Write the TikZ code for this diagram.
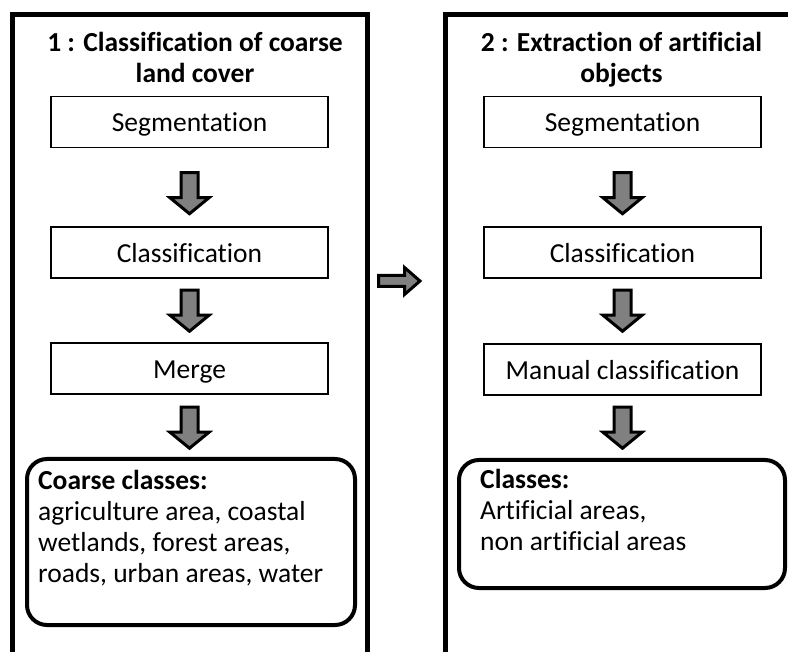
\documentclass[tikz,border=0pt]{standalone}
\usepackage{fontspec}
\setmainfont{Carlito}[Ligatures=CommonOff]
\usetikzlibrary{calc}
\begin{document}
\begin{tikzpicture}[x=1pt,y=-1pt,
  panel/.style={draw, line width=5pt},
  stepbox/.style={draw, line width=1.5pt, minimum width=277pt, minimum height=51pt, inner sep=0pt, text height=20pt, text depth=0pt, font=\fontsize{27.5}{31}\selectfont},
  resultbox/.style={draw, line width=4pt, rounded corners=20pt},
  resulttext/.style={align=left, inner sep=0pt, font=\fontsize{27.5}{31}\selectfont},
  titletext/.style={align=center, inner sep=0pt, font=\bfseries\fontsize{27.5}{31}\selectfont},
  blockarrow/.style={draw, line width=3pt, fill=gray, miter limit=10},
  downarrow/.pic={\path[blockarrow] (-8.5,0) -- (8.5,0) -- (8.5,25) -- (19.5,25) -- (0,41) -- (-19.5,25) -- (-8.5,25) -- cycle;}
]
\clip (0,0) rectangle (788,652);
\fill[white] (0,0) rectangle (788,652);

% panels
\draw[panel] (12,670) -- (12,15) -- (367,15) -- (367,670);
\draw[panel] (445,670) -- (445,15) -- (800,15) -- (800,670);

% left panel
\node[titletext, anchor=base] (t1) at (195,83) {1 : Classification of coarse\\land cover};
\node[stepbox] (s1) at (189.5,122) {Segmentation};
\node[stepbox] (c1) at (189.5,252.5) {Classification};
\node[stepbox] (m1) at (189.5,368.5) {Merge};
\node[resultbox, minimum width=328pt, minimum height=166pt] (r1) at (191,542) {};
\node[resulttext, anchor=base west] (r1t) at (38,582) {\textbf{Coarse classes:}\\agriculture area, coastal\\wetlands, forest areas,\\roads, urban areas, water};

\pic at ($(s1.south)+(0,24.5)$) {downarrow};
\pic at ($(c1.south)+(0,11.5)$) {downarrow};
\pic at ($(m1.south)+(0,12.5)$) {downarrow};

% right panel
\node[titletext, anchor=base] (t2) at (621.5,83) {2 : Extraction of artificial\\objects};
\node[stepbox] (s2) at (622.5,122) {Segmentation};
\node[stepbox] (c2) at (622.5,252.5) {Classification};
\node[stepbox] (m2) at (622.5,369.5) {Manual classification};
\node[resultbox, minimum width=326pt, minimum height=128pt] (r2) at (622,524) {};
\node[resulttext, anchor=base west] (r2t) at (480,550) {\textbf{Classes:}\\Artificial areas,\\non artificial areas};

\pic at ($(s2.south)+(0,24.5)$) {downarrow};
\pic at ($(c2.south)+(0,11.5)$) {downarrow};
\pic at ($(m2.south)+(0,11.5)$) {downarrow};

% arrow between panels
\path[blockarrow] (378.5,275.5) -- (404.5,275.5) -- (404.5,267.5) -- (420,281) -- (404.5,294.5) -- (404.5,286.5) -- (378.5,286.5) -- cycle;
\end{tikzpicture}
\end{document}
